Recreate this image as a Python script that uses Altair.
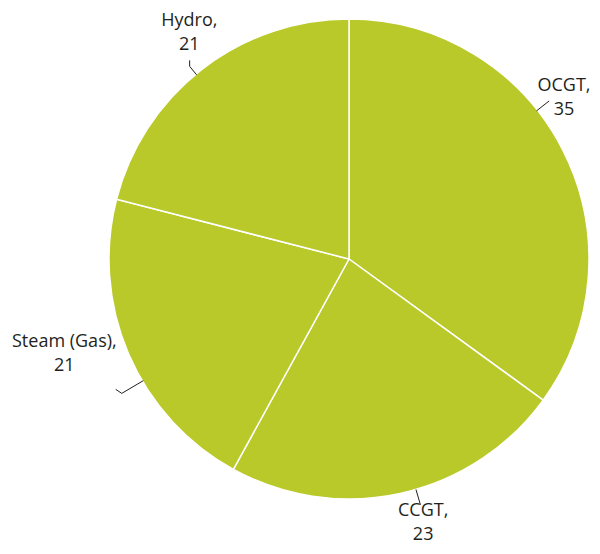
import altair as alt
import numpy as np
import pandas as pd

# Data
categories = ["OCGT", "CCGT", "Steam (Gas)", "Hydro"]
values = [35, 23, 21, 21]

# Label layout (angle offset from slice middle, degrees; radius px)
label_angle_offset = [-9.8, -3.1, 5.0, 2.6]
label_radius = [268.5, 274, 300, 277]
# Leader layout: angle offset from slice middle, inner/outer radius, tail dx/dy
leader_angle_offset = [-11.3, -3.6, -7.2, -1.8]
leader_r_inner = [239, 240, 239, 239]
leader_r_outer = [255, 256, 264, 250]
leader_tail = [(0, 0), (0, 0), (-6, -4), (0, -6)]

W, H = 584, 538
CX, CY = 341, 251
R = 240
PIE_COLOR = "#b9c92a"
TEXT_COLOR = "#231f20"

total = sum(values)
cum = np.cumsum([0] + values[:-1])
mid_deg = [(c + v / 2) / total * 360 for c, v in zip(cum, values)]

pie_df = pd.DataFrame({"cat": categories, "value": values, "idx": range(len(values))})

lab_rows = []
for i, cat in enumerate(categories):
    a = np.radians(mid_deg[i] + label_angle_offset[i])
    lab_rows.append({
        "label": f"{cat},\n{values[i]}",
        "px": CX + label_radius[i] * np.sin(a),
        "py": CY - label_radius[i] * np.cos(a),
    })
lab_df = pd.DataFrame(lab_rows)

lead_rows = []
for i, cat in enumerate(categories):
    a = np.radians(mid_deg[i] + leader_angle_offset[i])
    x1, y1 = CX + leader_r_inner[i] * np.sin(a), CY - leader_r_inner[i] * np.cos(a)
    x2, y2 = CX + leader_r_outer[i] * np.sin(a), CY - leader_r_outer[i] * np.cos(a)
    pts = [(x1, y1), (x2, y2)]
    if leader_tail[i] != (0, 0):
        pts.append((x2 + leader_tail[i][0], y2 + leader_tail[i][1]))
    for k, (x, y) in enumerate(pts):
        lead_rows.append({"cat": cat, "k": k, "px": x, "py": y})
lead_df = pd.DataFrame(lead_rows)

pie = alt.Chart(pie_df).mark_arc(outerRadius=R, stroke="white", strokeWidth=1.5).encode(
    theta=alt.Theta("value:Q", stack=True),
    order=alt.Order("idx:Q"),
    color=alt.value(PIE_COLOR),
    x=alt.value(CX),
    y=alt.value(CY),
)

labels = alt.Chart(lab_df).mark_text(
    font="Open Sans", fontSize=18, color=TEXT_COLOR, align="center",
    baseline="middle", lineBreak="\n", lineHeight=24, dy=-12,
).encode(
    x=alt.X("px:Q", scale=None, axis=None),
    y=alt.Y("py:Q", scale=None, axis=None),
    text="label:N",
)

leaders = alt.Chart(lead_df).mark_line(color=TEXT_COLOR, strokeWidth=1).encode(
    x=alt.X("px:Q", scale=None, axis=None),
    y=alt.Y("py:Q", scale=None, axis=None),
    detail="cat:N",
    order="k:Q",
)

chart = alt.layer(pie, leaders, labels).properties(
    width=W, height=H, padding=0, autosize=alt.AutoSizeParams(type="none")
).configure_view(stroke=None)

chart.save("out.html", embed_options={"renderer": "svg", "actions": False})
